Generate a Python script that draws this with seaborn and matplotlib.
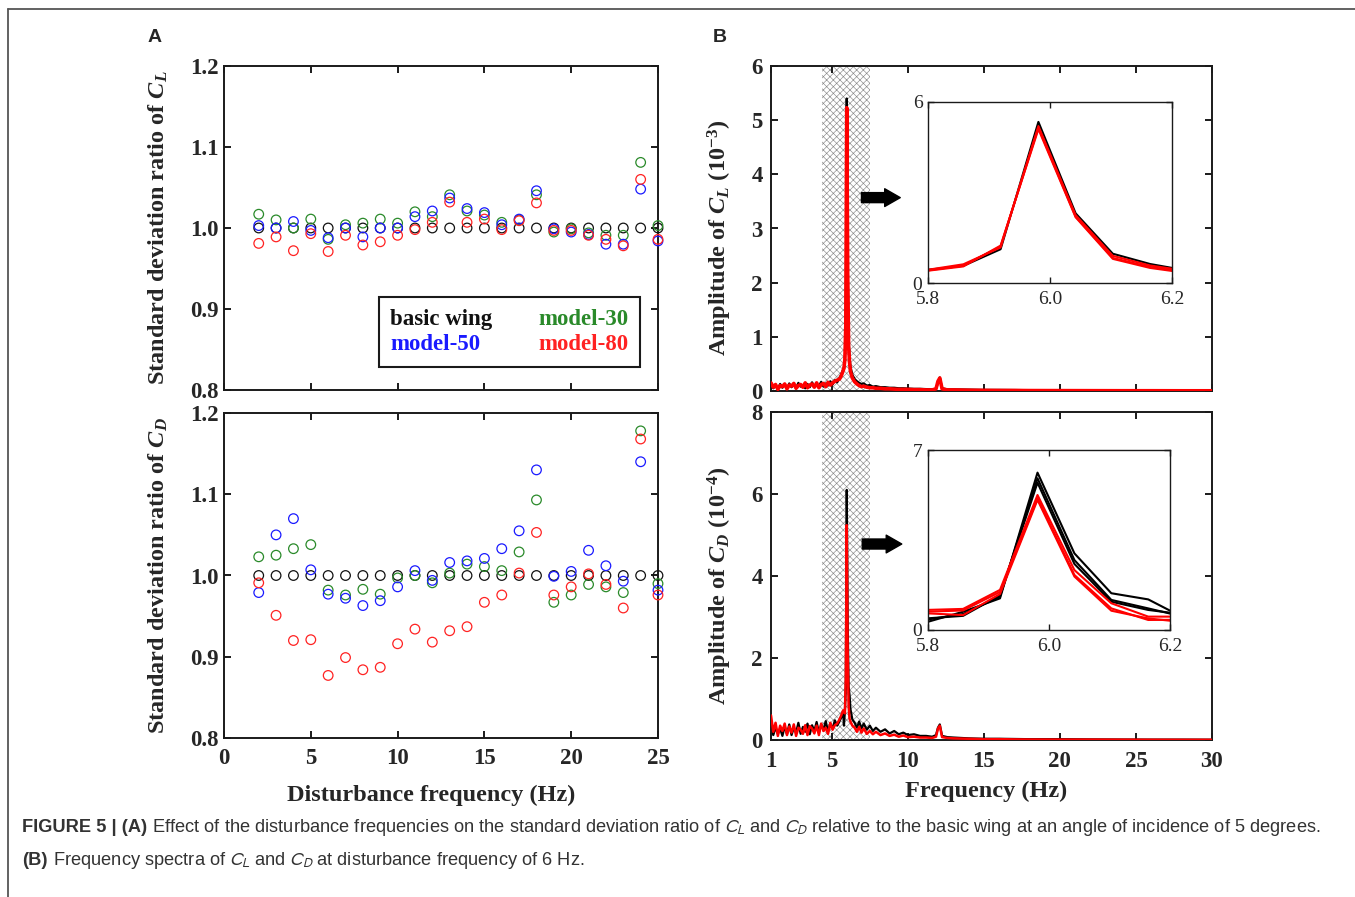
import numpy as np
import pandas as pd
import matplotlib
matplotlib.use("Agg")
import matplotlib.pyplot as plt
from matplotlib.lines import Line2D
import seaborn as sns

# ---- panel A : standard deviation ratio vs disturbance frequency ----
dist_freq = [2, 3, 4, 5, 6, 7, 8, 9, 10, 11, 12, 13, 14, 15, 16, 17, 18, 19, 20, 21, 22, 23, 24, 25]
models = ["basic wing", "model-30", "model-50", "model-80"]
model_colors = ["#111111", "#2a8a2a", "#1a1aff", "#ff2222"]

cl_basic = [1.0, 1.0, 1.0, 1.0, 1.0, 1.0, 1.0, 1.0, 1.0, 1.0, 1.0, 1.0,
            1.0, 1.0, 1.0, 1.0, 1.0, 1.0, 1.0, 1.0, 1.0, 1.0, 1.0, 1.0]
cl_m30 = [1.017, 1.010, 1.000, 1.011, 0.986, 1.004, 1.006, 1.011, 1.006, 1.020, 1.014, 1.041,
          1.021, 1.016, 1.007, 1.010, 1.041, 0.995, 0.999, 0.994, 0.991, 0.991, 1.081, 1.003]
cl_m50 = [1.003, 1.000, 1.008, 0.997, 0.988, 1.000, 0.989, 1.000, 1.000, 1.014, 1.021, 1.037,
          1.024, 1.019, 1.004, 1.011, 1.046, 0.999, 0.995, 0.992, 0.980, 0.980, 1.048, 0.984]
cl_m80 = [0.981, 0.989, 0.972, 0.993, 0.971, 0.991, 0.979, 0.983, 0.991, 0.998, 1.007, 1.032,
          1.007, 1.011, 0.998, 1.009, 1.031, 0.997, 0.997, 0.991, 0.986, 0.978, 1.060, 0.986]

cd_basic = [1.0, 1.0, 1.0, 1.0, 1.0, 1.0, 1.0, 1.0, 1.0, 1.0, 1.0, 1.0,
            1.0, 1.0, 1.0, 1.0, 1.0, 1.0, 1.0, 1.0, 1.0, 1.0, 1.0, 1.0]
cd_m30 = [1.023, 1.025, 1.033, 1.038, 0.982, 0.976, 0.983, 0.977, 0.997, 1.000, 0.991, 1.003,
          1.014, 1.011, 1.006, 1.029, 1.093, 0.967, 0.976, 0.989, 0.986, 0.979, 1.178, 0.990]
cd_m50 = [0.979, 1.050, 1.070, 1.007, 0.977, 0.972, 0.963, 0.969, 0.986, 1.006, 0.994, 1.016,
          1.018, 1.021, 1.033, 1.055, 1.130, 0.999, 1.005, 1.031, 1.012, 0.993, 1.140, 0.982]
cd_m80 = [0.991, 0.951, 0.920, 0.921, 0.877, 0.899, 0.884, 0.887, 0.916, 0.934, 0.918, 0.932,
          0.937, 0.967, 0.976, 1.003, 1.053, 0.976, 0.986, 1.002, 0.989, 0.960, 1.168, 0.976]

# ---- panel B : amplitude spectra (6 Hz disturbance) ----
spec_freq = [1.0, 1.15, 1.3, 1.45, 1.6, 1.75, 1.9, 2.05, 2.2, 2.35,
             2.5, 2.65, 2.8, 2.95, 3.1, 3.25, 3.4, 3.55, 3.7, 3.85,
             4.0, 4.15, 4.3, 4.45, 4.6, 4.75, 4.9, 5.05, 5.2, 5.35,
             5.5, 5.62, 5.74, 5.797, 5.858, 5.919, 5.981, 6.042, 6.103, 6.164,
             6.225, 6.35, 6.5, 6.65, 6.8, 6.95, 7.1, 7.3, 7.5, 7.7,
             7.9, 8.2, 8.5, 8.8, 9.1, 9.4, 9.7, 10.0, 10.4, 10.8,
             11.2, 11.6, 11.85, 11.98, 12.1, 12.25, 12.6, 13.0, 14.0, 15.0,
             16.0, 17.0, 18.0, 20.0, 22.0, 24.0, 26.0, 28.0, 30.0]
cl_amp_basic = [0.12, 0.05, 0.10, 0.04, 0.13, 0.06, 0.11, 0.05, 0.14, 0.07,
                0.12, 0.06, 0.15, 0.08, 0.11, 0.05, 0.13, 0.07, 0.16, 0.08,
                0.12, 0.09, 0.17, 0.08, 0.14, 0.10, 0.18, 0.12, 0.20, 0.16,
                0.24, 0.30, 0.40, 0.44, 0.57, 1.12, 5.40, 2.31, 0.97, 0.63,
                0.45, 0.30, 0.22, 0.18, 0.15, 0.13, 0.14, 0.10, 0.11, 0.08,
                0.09, 0.07, 0.07, 0.06, 0.06, 0.05, 0.05, 0.045, 0.04, 0.04,
                0.035, 0.03, 0.04, 0.15, 0.25, 0.05, 0.03, 0.03, 0.025, 0.02,
                0.02, 0.018, 0.015, 0.012, 0.01, 0.01, 0.008, 0.008, 0.006]
cl_amp_model = [0.15, 0.07, 0.12, 0.03, 0.10, 0.08, 0.13, 0.04, 0.11, 0.09,
                0.14, 0.05, 0.10, 0.12, 0.07, 0.15, 0.06, 0.11, 0.13, 0.07,
                0.15, 0.06, 0.12, 0.14, 0.08, 0.16, 0.11, 0.15, 0.18, 0.20,
                0.22, 0.28, 0.37, 0.42, 0.58, 1.21, 5.23, 2.20, 0.83, 0.53,
                0.36, 0.24, 0.17, 0.13, 0.10, 0.08, 0.09, 0.07, 0.06, 0.06,
                0.05, 0.05, 0.04, 0.04, 0.035, 0.03, 0.03, 0.03, 0.025, 0.025,
                0.02, 0.02, 0.04, 0.18, 0.24, 0.04, 0.02, 0.02, 0.015, 0.012,
                0.01, 0.01, 0.008, 0.007, 0.006, 0.005, 0.005, 0.004, 0.004]
cd_amp_basic = [0.35, 0.12, 0.30, 0.15, 0.28, 0.10, 0.33, 0.14, 0.38, 0.12,
                0.30, 0.18, 0.42, 0.15, 0.32, 0.20, 0.40, 0.14, 0.36, 0.22,
                0.44, 0.18, 0.38, 0.25, 0.46, 0.20, 0.40, 0.28, 0.48, 0.35,
                0.45, 0.55, 0.70, 0.35, 0.70, 1.25, 6.10, 2.85, 1.30, 1.10,
                0.75, 0.50, 0.42, 0.30, 0.45, 0.28, 0.40, 0.25, 0.35, 0.22,
                0.30, 0.20, 0.26, 0.16, 0.22, 0.14, 0.18, 0.12, 0.14, 0.10,
                0.10, 0.08, 0.12, 0.30, 0.38, 0.10, 0.07, 0.06, 0.04, 0.03,
                0.03, 0.025, 0.02, 0.02, 0.015, 0.012, 0.01, 0.01, 0.008]
cd_amp_model = [0.60, 0.20, 0.42, 0.10, 0.35, 0.22, 0.40, 0.12, 0.33, 0.18,
                0.38, 0.10, 0.30, 0.25, 0.15, 0.36, 0.12, 0.34, 0.28, 0.16,
                0.35, 0.12, 0.40, 0.22, 0.30, 0.15, 0.42, 0.25, 0.36, 0.40,
                0.50, 0.60, 0.72, 0.70, 0.65, 1.50, 5.24, 2.14, 0.84, 0.52,
                0.45, 0.35, 0.30, 0.20, 0.32, 0.18, 0.28, 0.15, 0.22, 0.14,
                0.20, 0.12, 0.16, 0.10, 0.13, 0.08, 0.11, 0.07, 0.08, 0.06,
                0.06, 0.05, 0.08, 0.28, 0.35, 0.07, 0.05, 0.04, 0.03, 0.02,
                0.02, 0.015, 0.012, 0.01, 0.01, 0.008, 0.006, 0.005, 0.005]

# zoomed peak (insets)
zoom_freq = [5.797, 5.858, 5.919, 5.981, 6.042, 6.103, 6.164, 6.225]
cl_zoom_black = [[0.43, 0.57, 1.12, 5.34, 2.31, 0.97, 0.63, 0.41]]
cl_zoom_red = [[0.41, 0.58, 1.21, 5.15, 2.20, 0.83, 0.53, 0.36],
               [0.43, 0.62, 1.18, 5.20, 2.25, 0.90, 0.58, 0.40],
               [0.40, 0.55, 1.24, 5.10, 2.18, 0.80, 0.50, 0.33]]
cd_zoom_black = [[0.30, 0.71, 1.23, 6.12, 2.98, 1.43, 1.19, 0.45],
                 [0.40, 0.62, 1.30, 5.90, 2.72, 1.17, 0.84, 0.50],
                 [0.45, 0.55, 1.35, 5.73, 2.57, 1.10, 0.78, 0.60]]
cd_zoom_red = [[0.78, 0.82, 1.56, 5.25, 2.33, 1.04, 0.52, 0.52],
               [0.71, 0.76, 1.48, 5.12, 2.14, 0.84, 0.39, 0.40],
               [0.65, 0.58, 1.40, 5.06, 2.08, 0.75, 0.45, 0.30]]

shade_lo, shade_hi = 4.35, 7.5

# ---- style ----
sns.set_style("ticks")
plt.rcParams["font.family"] = ["Liberation Serif", "DejaVu Serif"]
plt.rcParams["mathtext.fontset"] = "custom"
plt.rcParams["mathtext.it"] = "Liberation Serif:italic:bold"
plt.rcParams["mathtext.rm"] = "Liberation Serif:bold"
plt.rcParams["mathtext.bf"] = "Liberation Serif:bold"
plt.rcParams["hatch.linewidth"] = 0.45
plt.rcParams["hatch.color"] = "#8a8a8a"

W, H = 1355, 897
fig = plt.figure(figsize=(W / 100, H / 100), dpi=100)


def px_axes(left, top, right, bottom):
    return fig.add_axes([left / W, 1 - bottom / H, (right - left) / W, (bottom - top) / H])


def style_axes(ax, lw=1.4, size=16.5, weight="bold"):
    for s in ax.spines.values():
        s.set_linewidth(lw)
        s.set_color("#1a1a1a")
    ax.tick_params(direction="in", top=True, right=True, length=5, width=lw,
                   labelsize=size, color="#1a1a1a")
    for lab in ax.get_xticklabels() + ax.get_yticklabels():
        lab.set_fontweight(weight)


axA1 = px_axes(224, 66, 658, 390)
axA2 = px_axes(224, 413, 658, 738)
axB1 = px_axes(771, 66, 1212, 391)
axB2 = px_axes(771, 412, 1212, 740)
insB1 = px_axes(928, 102, 1172, 283)
insB2 = px_axes(928, 450, 1170, 630)

# ---- panel A ----
def draw_ratio(ax, series):
    df = pd.DataFrame({"freq": dist_freq * 4,
                       "ratio": sum(series, []),
                       "model": [m for m in models for _ in dist_freq]})
    for name, col in zip(models, model_colors):
        sub = df[df["model"] == name]
        sns.scatterplot(data=sub, x="freq", y="ratio", ax=ax, marker="o", s=48,
                        color=col, facecolors="none", edgecolor=col, linewidth=0.9,
                        legend=False, clip_on=False, zorder=3)
    ax.set_xlim(0, 25)
    ax.set_ylim(0.8, 1.2)
    ax.set_xticks([0, 5, 10, 15, 20, 25])
    ax.set_yticks([0.8, 0.9, 1.0, 1.1, 1.2])
    ax.set_yticklabels(["0.8", "0.9", "1.0", "1.1", "1.2"])
    ax.set_xlabel("")
    ax.tick_params(axis="y", pad=4)
    ax.tick_params(axis="x", pad=7)


draw_ratio(axA1, [cl_basic, cl_m30, cl_m50, cl_m80])
draw_ratio(axA2, [cd_basic, cd_m30, cd_m50, cd_m80])
axA1.set_xticklabels([])
style_axes(axA1)
style_axes(axA2)
axA1.set_ylabel(r"Standard deviation ratio of $C_L$", fontsize=17.5, fontweight="bold")
axA2.set_ylabel(r"Standard deviation ratio of $C_D$", fontsize=17.5, fontweight="bold")
axA1.yaxis.set_label_coords(-0.125, 0.5)
axA2.yaxis.set_label_coords(-0.125, 0.5)
axA2.set_xlabel("Disturbance frequency (Hz)", fontsize=17.5, fontweight="bold")
axA2.xaxis.set_label_coords(0.477, -0.143)

handles = [Line2D([], [], lw=0, marker=None) for _ in range(4)]
leg_order = [0, 2, 1, 3]
leg = axA1.legend([handles[i] for i in leg_order], [models[i] for i in leg_order],
                  ncol=2, loc="upper right", bbox_to_anchor=(0.9585, 0.287),
                  borderaxespad=0, handlelength=0, handletextpad=0,
                  columnspacing=2.0, fancybox=False, framealpha=1,
                  edgecolor="#1a1a1a", borderpad=0.5, labelspacing=0.2,
                  prop={"family": "Liberation Serif", "weight": "bold", "size": 16.5})
leg.get_frame().set_linewidth(1.5)
for txt, i in zip(leg.get_texts(), leg_order):
    txt.set_color(model_colors[i])

# ---- panel B ----
def draw_spec(ax, basic, model, red_lw):
    ax.axvspan(shade_lo, shade_hi, facecolor="white", edgecolor="#8a8a8a",
               hatch="xxxxx", lw=0, zorder=0)
    sns.lineplot(x=spec_freq, y=basic, ax=ax, color="black", lw=1.6,
                 sort=False, estimator=None, zorder=2)
    sns.lineplot(x=spec_freq, y=model, ax=ax, color="#ff0000", lw=red_lw,
                 sort=False, estimator=None, zorder=3)
    ax.set_xlim(1, 30)
    ax.set_xticks([1, 5, 10, 15, 20, 25, 30])
    ax.tick_params(axis="x", pad=8)
    ax.tick_params(axis="y", pad=6)


draw_spec(axB1, cl_amp_basic, cl_amp_model, 2.6)
draw_spec(axB2, cd_amp_basic, cd_amp_model, 1.8)
axB1.set_ylim(0, 6)
axB1.set_yticks([0, 1, 2, 3, 4, 5, 6])
axB2.set_ylim(0, 8)
axB2.set_yticks([0, 2, 4, 6, 8])
axB1.set_xticklabels([])
style_axes(axB1)
style_axes(axB2)
axB1.set_ylabel(r"Amplitude of $C_L$ ($10^{-3}$)", fontsize=17.5, fontweight="bold")
axB2.set_ylabel(r"Amplitude of $C_D$ ($10^{-4}$)", fontsize=17.5, fontweight="bold")
axB1.yaxis.set_label_coords(-0.083, 0.47)
axB2.yaxis.set_label_coords(-0.083, 0.47)
axB2.set_xlabel("Frequency (Hz)", fontsize=17.5, fontweight="bold")
axB2.xaxis.set_label_coords(0.488, -0.125)

arrow = dict(arrowstyle="simple,head_length=0.7,head_width=0.8,tail_width=0.45",
             fc="black", ec="black", mutation_scale=16, shrinkA=0, shrinkB=0)
axB1.annotate("", xy=(9.5, 3.57), xytext=(6.95, 3.57), arrowprops=arrow)
axB2.annotate("", xy=(9.6, 4.78), xytext=(7.0, 4.78), arrowprops=arrow)


def draw_zoom(ax, blacks, reds, ytop):
    for row in blacks:
        sns.lineplot(x=zoom_freq, y=row, ax=ax, color="black", lw=1.5,
                     sort=False, estimator=None)
    for row in reds:
        sns.lineplot(x=zoom_freq, y=row, ax=ax, color="#ff0000", lw=1.5,
                     sort=False, estimator=None)
    ax.set_xlim(5.8, 6.2)
    ax.set_ylim(0, ytop)
    ax.set_xticks([5.8, 6.0, 6.2])
    ax.set_xticklabels(["5.8", "6.0", "6.2"])
    ax.set_yticks([0, ytop])
    style_axes(ax, lw=1.0, size=14, weight="normal")
    ax.tick_params(length=4)
    ax.tick_params(axis="x", pad=6)
    ax.tick_params(axis="y", pad=4)
    ax.set_facecolor("white")


draw_zoom(insB1, cl_zoom_black, cl_zoom_red, 6)
draw_zoom(insB2, cd_zoom_black, cd_zoom_red, 7)

# ---- panel letters, frame and caption ----
fig.text(155 / W, 1 - 38 / H, "A", family="Liberation Sans", weight="bold",
         fontsize=14, ha="center", va="center")
fig.text(720 / W, 1 - 38 / H, "B", family="Liberation Sans", weight="bold",
         fontsize=14, ha="center", va="center")
fig.add_artist(Line2D([8 / W, 1], [1 - 9 / H, 1 - 9 / H], transform=fig.transFigure,
                      color="#555555", lw=1.3))
fig.add_artist(Line2D([8 / W, 8 / W], [0, 1 - 9 / H], transform=fig.transFigure,
                      color="#555555", lw=1.3))

cap_kw = dict(family="Liberation Sans", fontsize=13.15, color="#333333")
captions = [("FIGURE 5 | (A)",
             " Effect of the disturbance frequencies on the standard deviation ratio of "
             r"$C_L$ and $C_D$ relative to the basic wing at an angle of incidence of 5 degrees."),
            ("(B)", r" Frequency spectra of $C_L$ and $C_D$ at disturbance frequency of 6 Hz.")]
for (bold, rest), ypx in zip(captions, [832, 865]):
    y0 = 1 - ypx / H
    t1 = fig.text(22 / W, y0, bold, weight="bold", va="baseline", **cap_kw)
    axA1.annotate(rest, xy=(1, y0), xycoords=(t1, "figure fraction"),
                  va="baseline", ha="left", annotation_clip=False,
                  math_fontfamily="stixsans", **cap_kw)

fig.savefig("out.png", dpi=100)
